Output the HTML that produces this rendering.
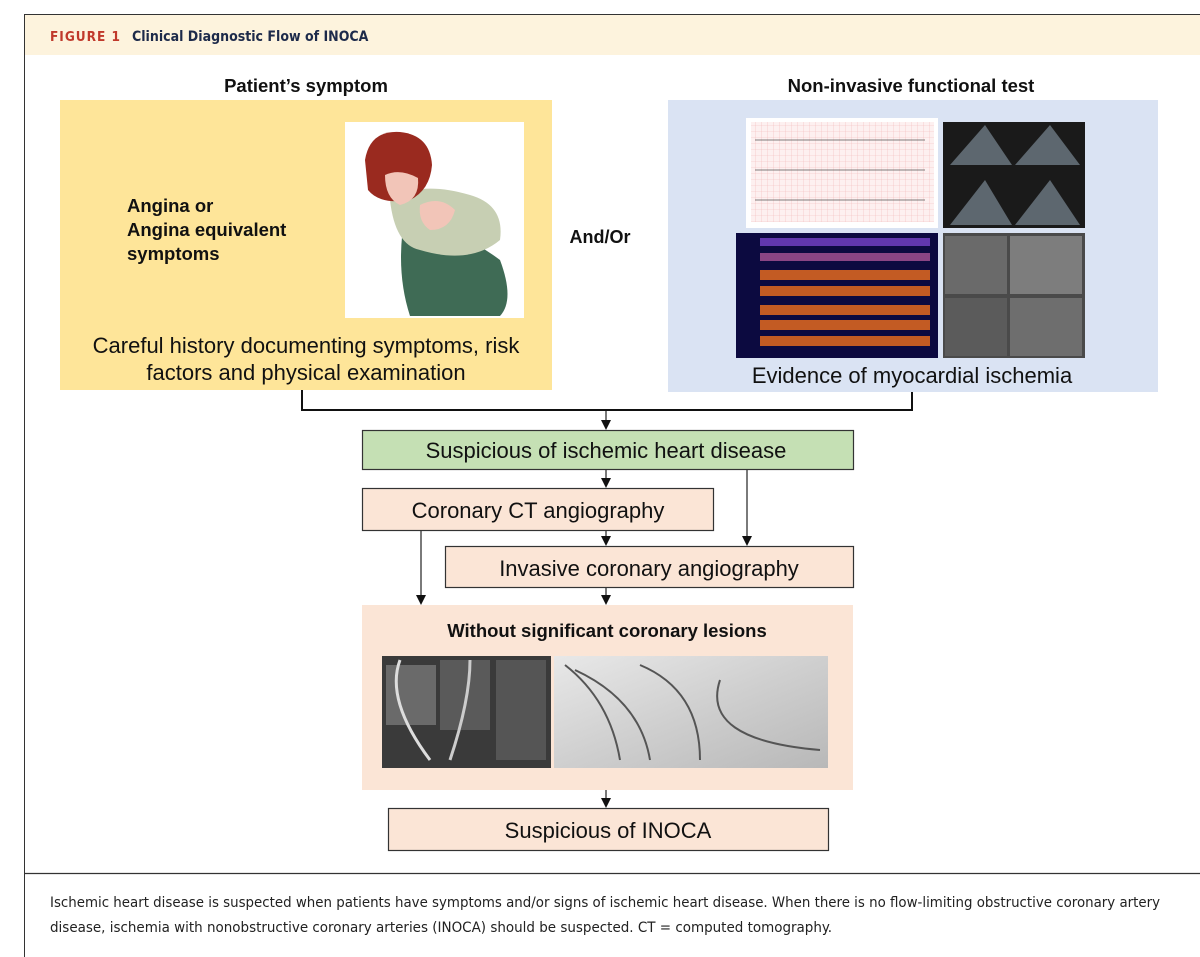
<!DOCTYPE html>
<html><head><meta charset="utf-8"><style>
html,body{margin:0;padding:0;background:#fff;}
svg{display:block;}
text{font-family:"Liberation Sans",Arial,sans-serif;}
</style></head><body>
<svg width="1200" height="957" viewBox="0 0 1200 957" xmlns="http://www.w3.org/2000/svg">
<defs>
<pattern id="grid" width="6" height="6" patternUnits="userSpaceOnUse"><rect width="6" height="6" fill="#fdf0f0"/><path d="M6 0V6H0" fill="none" stroke="#f2b8b8" stroke-width="0.6"/></pattern>
<linearGradient id="ang" x1="0" y1="0" x2="1" y2="1"><stop offset="0" stop-color="#e8e8e8"/><stop offset="0.5" stop-color="#cfcfcf"/><stop offset="1" stop-color="#b8b8b8"/></linearGradient>
</defs>
<!-- frame -->
<rect x="24.5" y="14.5" width="1190" height="960" fill="none" stroke="#333" stroke-width="1"/>
<rect x="25" y="15" width="1175" height="40" fill="#fdf3dd"/>
<line x1="24" y1="873.5" x2="1200" y2="873.5" stroke="#333" stroke-width="1.2"/>
<text x="50" y="41" font-weight="bold" font-size="13.5" fill="#c0392b" letter-spacing="1" style="font-family:'DejaVu Sans Condensed','DejaVu Sans',sans-serif">FIGURE 1</text>
<text x="132" y="41" font-weight="bold" font-size="14" fill="#1d2a4a" style="font-family:'DejaVu Sans Condensed','DejaVu Sans',sans-serif">Clinical Diagnostic Flow of INOCA</text>

<text x="306" y="92" text-anchor="middle" font-weight="bold" font-size="18.5" fill="#111">Patient’s symptom</text>
<text x="911" y="92" text-anchor="middle" font-weight="bold" font-size="18.5" fill="#111">Non-invasive functional test</text>

<rect x="60" y="100" width="492" height="290" fill="#fee599"/>
<rect x="345" y="122" width="179" height="196" fill="#fff"/>
<path d="M405 215 Q460 230 500 260 Q515 300 500 316 L410 316 Q395 270 405 215z" fill="#3f6b55"/>
<path d="M390 200 Q420 180 470 195 Q505 205 500 240 Q470 265 420 250 Q395 245 390 200z" fill="#c7cfb3"/>
<path d="M365 160 Q370 130 400 132 Q430 135 432 165 Q430 190 410 200 Q380 205 368 190z" fill="#9a2a1f"/>
<path d="M385 175 Q400 168 418 178 Q420 200 400 205 Q385 198 385 175z" fill="#f2c5b8"/>
<path d="M420 205 Q440 195 455 210 Q450 230 430 230 Q418 222 420 205z" fill="#f2c5b8"/>
<text x="127" y="212" font-weight="bold" font-size="18.5" fill="#111">Angina or</text>
<text x="127" y="236" font-weight="bold" font-size="18.5" fill="#111">Angina equivalent</text>
<text x="127" y="260" font-weight="bold" font-size="18.5" fill="#111">symptoms</text>
<text x="306" y="353" text-anchor="middle" font-size="22" fill="#111">Careful history documenting symptoms, risk</text>
<text x="306" y="380" text-anchor="middle" font-size="22" fill="#111">factors and physical examination</text>

<text x="600" y="243" text-anchor="middle" font-weight="bold" font-size="18" fill="#111">And/Or</text>

<rect x="668" y="100" width="490" height="292" fill="#dae3f3"/>
<rect x="746" y="118" width="192" height="110" fill="#fff"/>
<rect x="751" y="122" width="183" height="100" fill="url(#grid)"/>
<path d="M755 140 h170 M755 170 h170 M755 200 h170" stroke="#555" stroke-width="0.8"/>
<rect x="943" y="122" width="142" height="106" fill="#1a1a1a"/>
<path d="M950 165 L985 125 L1012 165z M1015 165 L1050 125 L1080 165z M950 225 L985 180 L1012 225z M1015 225 L1050 180 L1080 225z" fill="#6e7a85" opacity="0.8"/>
<rect x="736" y="233" width="202" height="125" fill="#0c0a40"/>
<g fill="#e46a1f" opacity="0.85">
<rect x="760" y="238" width="170" height="8" fill="#7040c0"/>
<rect x="760" y="253" width="170" height="8" fill="#a05090"/>
<rect x="760" y="270" width="170" height="10"/>
<rect x="760" y="286" width="170" height="10"/>
<rect x="760" y="305" width="170" height="10"/>
<rect x="760" y="320" width="170" height="10"/>
<rect x="760" y="336" width="170" height="10"/>
</g>
<rect x="943" y="233" width="142" height="125" fill="#4a4a4a"/>
<rect x="945" y="236" width="62" height="58" fill="#6a6a6a"/><rect x="1010" y="236" width="72" height="58" fill="#7d7d7d"/>
<rect x="945" y="298" width="62" height="58" fill="#5b5b5b"/><rect x="1010" y="298" width="72" height="58" fill="#6e6e6e"/>
<text x="912" y="383" text-anchor="middle" font-size="22" fill="#111">Evidence of myocardial ischemia</text>

<path d="M302 390 V410 H912 V392" fill="none" stroke="#111" stroke-width="2"/>
<g stroke="#222" stroke-width="1.2" fill="none">
<line x1="606" y1="411" x2="606" y2="422"/>
<line x1="606" y1="469" x2="606" y2="480"/>
<line x1="747" y1="469" x2="747" y2="538"/>
<line x1="606" y1="530" x2="606" y2="538"/>
<line x1="421" y1="530" x2="421" y2="597"/>
<line x1="606" y1="587" x2="606" y2="597"/>
<line x1="606" y1="790" x2="606" y2="800"/>
</g>
<g fill="#111">
<polygon points="601,420 611,420 606,430"/>
<polygon points="601,478 611,478 606,488"/>
<polygon points="742,536 752,536 747,546"/>
<polygon points="601,536 611,536 606,546"/>
<polygon points="416,595 426,595 421,605"/>
<polygon points="601,595 611,595 606,605"/>
<polygon points="601,798 611,798 606,808"/>
</g>

<rect x="362.5" y="430.5" width="491" height="39" fill="#c5e0b4" stroke="#333" stroke-width="1.2"/>
<text x="606" y="458" text-anchor="middle" font-size="22" fill="#111">Suspicious of ischemic heart disease</text>
<rect x="362.5" y="488.5" width="351" height="42" fill="#fbe5d6" stroke="#333" stroke-width="1.2"/>
<text x="538" y="518" text-anchor="middle" font-size="22" fill="#111">Coronary CT angiography</text>
<rect x="445.5" y="546.5" width="408" height="41" fill="#fbe5d6" stroke="#333" stroke-width="1.2"/>
<text x="649" y="576" text-anchor="middle" font-size="22" fill="#111">Invasive coronary angiography</text>

<rect x="362" y="605" width="491" height="185" fill="#fbe5d6"/>
<text x="607" y="637" text-anchor="middle" font-weight="bold" font-size="18.5" fill="#111">Without significant coronary lesions</text>
<rect x="382" y="656" width="169" height="112" fill="#3a3a3a"/>
<rect x="386" y="665" width="50" height="60" fill="#6a6a6a"/><rect x="440" y="660" width="50" height="70" fill="#5a5a5a"/><rect x="496" y="660" width="50" height="100" fill="#555"/>
<path d="M400 660 Q385 700 430 760" stroke="#ddd" stroke-width="3" fill="none"/>
<path d="M470 660 Q470 700 450 760" stroke="#ccc" stroke-width="3" fill="none"/>
<rect x="554" y="656" width="274" height="112" fill="url(#ang)"/>
<path d="M565 665 Q610 700 620 760 M575 670 Q640 700 650 760 M640 665 Q700 690 700 760 M720 680 Q700 740 820 750" stroke="#555" stroke-width="2" fill="none"/>
<rect x="388.5" y="808.5" width="440" height="42" fill="#fbe5d6" stroke="#333" stroke-width="1.2"/>
<text x="608" y="838" text-anchor="middle" font-size="22" fill="#111">Suspicious of INOCA</text>

<text x="50" y="907" font-size="14.5" fill="#222" style="font-family:'DejaVu Sans Condensed','DejaVu Sans',sans-serif" textLength="1110" lengthAdjust="spacingAndGlyphs">Ischemic heart disease is suspected when patients have symptoms and/or signs of ischemic heart disease. When there is no flow-limiting obstructive coronary artery</text>
<text x="50" y="932" font-size="14.5" fill="#222" style="font-family:'DejaVu Sans Condensed','DejaVu Sans',sans-serif" textLength="782" lengthAdjust="spacingAndGlyphs">disease, ischemia with nonobstructive coronary arteries (INOCA) should be suspected. CT = computed tomography.</text>
</svg>
</body></html>
